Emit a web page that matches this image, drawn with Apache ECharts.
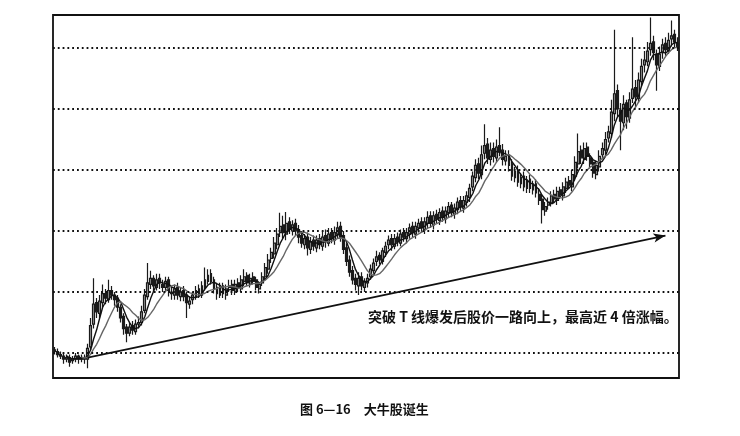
<!DOCTYPE html>
<html><head><meta charset="utf-8">
<script src="https://cdn.jsdelivr.net/npm/echarts@6/dist/echarts.min.js"></script>
<style>html,body{margin:0;padding:0;background:#fff}#c{width:740px;height:436px}</style>
</head><body><div id="c"></div>
<script>
const opens = [
6.2,6.1,5.9,5.8,5.6,5.7,5.5,5.6,5.8,5.6,
5.7,5.6,6.4,7.9,9.3,8.6,9.3,9.9,9.5,10.1,
9.8,9.6,9.0,8.4,7.7,7.3,7.8,7.4,7.9,8.0,
8.8,9.7,10.5,10.9,10.3,10.9,10.5,10.3,10.8,10.0,
9.8,10.3,9.7,10.1,9.8,9.2,9.5,9.7,10.2,9.8,
10.3,10.7,11.2,10.8,10.3,9.8,10.4,9.8,10.3,10.5,
10.0,10.6,10.2,10.7,11.1,10.5,11.0,10.8,10.2,10.6,
11.0,11.5,12.2,12.5,13.1,13.9,14.4,13.8,14.6,14.0,
14.5,14.1,13.7,13.1,13.6,12.8,13.4,12.9,13.5,13.0,
13.7,13.2,13.9,13.4,13.8,14.3,13.7,12.9,12.1,11.4,
10.9,10.4,11.0,10.3,10.6,11.0,11.4,12.0,12.4,12.0,
12.6,13.1,13.5,13.0,13.6,13.2,13.9,13.5,13.8,14.3,
13.8,14.2,14.6,14.1,14.5,15.0,14.4,15.1,14.7,15.3,
14.8,15.2,15.7,15.1,15.4,16.0,15.5,15.9,16.2,16.9,
17.5,18.4,17.7,19.1,19.7,18.7,19.4,18.8,19.6,19.3,
18.6,19.0,18.4,17.5,18.0,17.1,17.6,16.8,17.4,16.7,
17.1,16.4,16.1,15.3,15.7,15.8,16.4,16.0,16.7,16.3,
16.8,17.3,16.9,17.6,18.4,19.3,18.7,19.5,18.8,18.5,
17.7,18.2,19.0,19.3,20.1,20.4,21.7,23.2,21.9,21.1,
22.4,21.4,22.7,23.4,22.7,23.8,24.9,25.1,25.9,26.4,
25.6,24.8,25.7,26.3,25.8,26.6,26.9,26.3];
const closes = [
6.1,5.9,5.8,5.6,5.7,5.4,5.6,5.8,5.6,5.7,
5.6,6.3,7.8,9.2,8.7,9.4,9.9,9.6,10.1,9.8,
9.5,9.0,8.3,7.6,7.3,7.7,7.5,7.9,8.0,8.7,
9.8,10.6,10.9,10.4,10.8,10.6,10.3,10.7,10.1,9.9,
10.2,9.8,10.0,9.7,9.3,9.4,9.8,10.1,9.9,10.4,
10.8,11.1,10.7,10.2,9.9,10.3,9.9,10.2,10.4,10.1,
10.5,10.3,10.8,11.0,10.6,10.9,10.7,10.3,10.5,11.0,
11.6,12.1,12.6,13.2,13.8,14.3,13.9,14.5,14.1,14.4,
14.0,13.6,13.2,13.5,12.9,13.3,13.0,13.4,13.1,13.6,
13.3,13.8,13.5,13.9,14.2,13.6,12.8,12.0,11.3,10.8,
10.5,10.9,10.4,10.7,10.9,11.5,11.9,12.3,12.1,12.7,
13.0,13.4,13.1,13.5,13.3,13.8,13.6,13.9,14.2,13.9,
14.3,14.5,14.2,14.6,14.9,14.5,15.0,14.8,15.2,14.9,
15.3,15.6,15.2,15.5,15.9,15.6,16.0,16.3,16.8,17.6,
18.3,17.8,19.0,19.6,18.8,19.3,18.9,19.5,19.2,18.7,
18.9,18.3,17.6,17.9,17.2,17.5,16.9,17.3,16.8,17.0,
16.5,16.0,15.4,15.6,15.9,16.3,16.1,16.6,16.4,16.9,
17.2,17.0,17.7,18.5,19.2,18.8,19.4,18.9,18.4,17.8,
18.3,18.9,19.4,20.0,20.5,21.8,23.0,22.0,21.2,22.3,
21.5,22.6,23.3,22.8,23.9,24.8,25.2,25.8,26.3,25.7,
24.9,25.6,26.2,25.9,26.5,26.8,26.4,26.1];
const lows = [
5.9,5.7,5.6,5.3,5.4,5.1,5.3,5.4,5.3,5.4,
5.3,5.0,6.2,7.6,8.3,8.3,9.0,9.2,9.3,9.5,
9.1,8.7,8.0,7.2,6.7,7.1,7.2,7.2,7.6,7.8,
8.6,9.5,10.2,10.0,10.1,10.2,10.0,10.0,9.7,9.5,
9.5,9.5,9.4,9.4,8.3,8.9,9.2,9.5,9.6,9.6,
10.1,10.5,10.5,9.9,9.5,9.6,9.6,9.5,10.0,9.8,
9.8,10.0,10.0,10.4,10.4,10.3,10.5,10.1,9.9,10.4,
10.8,11.2,11.9,12.2,12.8,13.6,13.5,13.4,13.8,13.7,
13.7,13.2,12.9,12.8,12.4,12.5,12.7,12.6,12.8,12.7,
12.9,13.0,13.2,13.1,13.5,13.3,12.5,11.7,11.0,10.5,
10.1,9.8,10.1,10.0,10.3,10.8,11.2,11.7,11.8,11.8,
12.3,12.8,12.7,12.8,13.0,13.0,13.3,13.2,13.5,13.6,
13.5,13.9,13.9,13.8,14.2,14.2,14.1,14.5,14.4,14.6,
14.5,14.9,14.9,14.8,15.1,15.3,15.2,15.6,15.9,16.6,
17.2,17.4,17.4,18.7,18.4,18.3,18.5,18.5,18.9,18.3,
18.3,17.9,17.3,17.2,16.9,16.8,16.6,16.5,16.5,16.4,
16.2,15.7,14.5,15.0,15.4,15.6,15.8,15.7,16.1,16.0,
16.5,16.8,16.6,17.3,18.1,18.4,18.4,18.6,18.1,17.5,
17.4,17.9,18.7,19.0,19.8,20.1,21.2,21.5,19.3,20.6,
20.7,21.1,22.4,22.1,22.4,23.5,24.4,24.8,25.5,25.2,
23.2,24.5,25.3,25.5,25.6,26.1,26.0,25.8];
const highs = [
6.4,6.3,6.1,6.0,5.9,5.9,5.8,6.0,5.9,5.9,
5.9,6.6,8.3,10.9,9.6,9.8,10.5,10.2,10.8,10.4,
10.0,9.8,9.2,8.6,7.9,8.0,8.1,8.2,8.4,9.1,
10.2,11.9,11.4,11.1,11.2,11.2,10.8,11.0,11.0,10.4,
10.5,10.6,10.3,10.4,10.0,9.7,10.0,10.4,10.5,10.7,
11.6,11.5,11.5,11.0,10.6,10.6,10.6,10.5,10.8,10.8,
10.8,10.9,11.1,11.5,11.3,11.2,11.3,11.0,10.7,11.3,
11.9,12.5,12.9,13.6,14.2,15.2,15.0,15.25,14.9,14.7,
14.8,14.4,14.0,13.8,13.9,13.6,13.7,13.7,13.8,14.0,
14.1,14.2,14.2,14.3,14.6,14.6,14.0,13.2,12.4,11.7,
11.2,11.3,11.3,10.9,11.2,11.8,12.2,12.7,12.6,12.9,
13.3,13.7,13.8,13.8,13.9,14.1,14.2,14.2,14.5,14.6,
14.6,14.8,14.9,14.9,15.3,15.3,15.3,15.4,15.5,15.6,
15.6,15.9,15.9,15.8,16.2,16.3,16.3,16.6,17.1,17.9,
18.7,18.8,19.6,21.0,20.1,19.8,19.8,20.0,20.8,19.7,
19.3,19.3,18.7,18.2,18.3,17.8,17.9,17.6,17.7,17.3,
17.4,16.8,16.4,15.9,16.2,16.6,16.7,16.9,16.9,17.2,
17.5,17.6,18.0,18.9,20.4,19.6,19.8,19.8,19.1,18.7,
18.6,19.3,19.8,20.5,20.9,22.6,27.2,23.6,22.4,22.9,
22.6,23.1,26.7,23.9,24.4,25.3,25.8,26.4,28.0,26.8,
25.9,26.1,26.6,26.7,27.0,27.8,27.2,26.7];
const gridValues = [6, 10, 14, 18, 22, 26];
const trendStart = [11, 5.7];
const trendEnd = [203, 13.7];
const noteText = '突破 T 线爆发后股价一路向上，最高近 4 倍涨幅。';
const captionText = '图 6—16　大牛股诞生';

const categories = closes.map((_, i) => String(i + 1));
const candles = closes.map((c, i) => [opens[i], c, lows[i], highs[i]]);
function ma(n) {
  return closes.map((_, i) => {
    if (i < n - 1) return '-';
    let s = 0;
    for (let k = i - n + 1; k <= i; k++) s += closes[k];
    return +(s / n).toFixed(3);
  });
}

const chart = echarts.init(document.getElementById('c'), null, {renderer: 'canvas'});
chart.setOption({
  animation: false,
  backgroundColor: '#fff',
  grid: {left: 53, right: 61, top: 15, bottom: 58, show: true, borderColor: '#111', borderWidth: 1.8, backgroundColor: 'transparent'},
  xAxis: {type: 'category', data: categories, boundaryGap: true,
    axisLine: {show: false}, axisTick: {show: false}, axisLabel: {show: false}, splitLine: {show: false}},
  yAxis: {type: 'value', min: 4.361, max: 28.164, scale: true,
    axisLine: {show: false}, axisTick: {show: false}, axisLabel: {show: false}, splitLine: {show: false}},
  series: [
    {type: 'candlestick', data: candles, barWidth: 2.4,
      itemStyle: {color: '#9a9a9a', color0: '#1a1a1a', borderColor: '#1a1a1a', borderColor0: '#1a1a1a', borderWidth: 1.2},
      markLine: {silent: true, symbol: ['none', 'none'], animation: false,
        label: {show: false},
        lineStyle: {color: '#111', type: [1.8, 3], width: 1.8},
        data: gridValues.map(v => ({yAxis: v})).concat([[
          {coord: trendStart, symbol: 'none', lineStyle: {type: 'solid', width: 1.7, color: '#111'}},
          {coord: trendEnd, symbol: 'arrow', symbolSize: [7, 12], lineStyle: {type: 'solid', width: 1.7, color: '#111'}}
        ]])
      }
    },
    {type: 'line', data: ma(5), symbol: 'none', lineStyle: {color: '#111', width: 1.4}, z: 3},
    {type: 'line', data: ma(10), symbol: 'none', lineStyle: {color: '#666', width: 1.4}, z: 3}
  ],
  graphic: [
    {type: 'text', left: 368, top: 310, style: {text: noteText, fill: '#111', font: 'bold 14px "Noto Sans CJK SC"'}},
    {type: 'text', left: 300, top: 403, style: {text: captionText, fill: '#111', font: 'bold 13px "Noto Sans CJK SC"'}}
  ]
});
</script></body></html>
